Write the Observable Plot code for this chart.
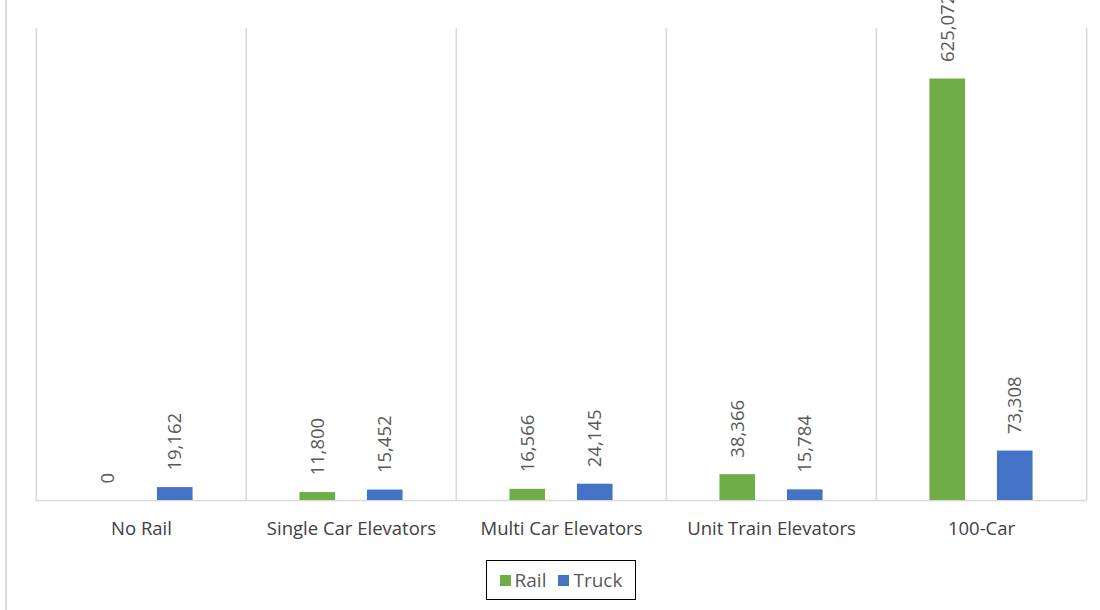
<!DOCTYPE html>
<html>
<head>
<meta charset="utf-8">
<script src="https://cdn.jsdelivr.net/npm/d3@7"></script>
<script src="https://cdn.jsdelivr.net/npm/@observablehq/plot@0.6"></script>
<style>
  html, body { margin: 0; padding: 0; background: #fff; }
  #wrap { position: relative; width: 1100px; height: 610px; overflow: hidden; font-family: "Open Sans", sans-serif; }
  #frame { position: absolute; left: 5px; top: 0; width: 2px; height: 610px; background: #d9d9d9; }
  #legend { position: absolute; left: 486px; top: 560px; width: 148px; height: 38px; border: 1px solid #000; box-sizing: content-box;
            display: flex; align-items: center; justify-content: center; gap: 12px; font-size: 19px; color: #595959; }
  .sw { display: inline-block; width: 11px; height: 11px; margin-right: 4px; vertical-align: middle; }
  .item { display: flex; align-items: center; }
</style>
</head>
<body>
<div id="wrap">
  <div id="chart"></div>
  <div id="frame"></div>
  <div id="legend"></div>
</div>
<script>
const categories = ["No Rail", "Single Car Elevators", "Multi Car Elevators", "Unit Train Elevators", "100-Car"];
const railValues = [0, 11800, 16566, 38366, 625072];
const truckValues = [19162, 15452, 24145, 15784, 73308];
const seriesNames = ["Rail", "Truck"];
const seriesColors = ["#70AD47", "#4472C4"];

const width = 1100, height = 545;
const marginLeft = 35, marginRight = 13, marginTop = 28, marginBottom = 45;
const step = (width - marginLeft - marginRight) / categories.length;
const barW = 36, offset = 33.75;

const rail = categories.map((c, i) => ({category: c, series: "Rail", value: railValues[i]}));
const truck = categories.map((c, i) => ({category: c, series: "Truck", value: truckValues[i]}));
const fmt = d3.format(",");

const textOpts = (off) => ({
  x: "category", y: "value", text: d => fmt(d.value), rotate: -90, textAnchor: "start",
  dx: off, dy: -17, fontSize: 18.5, fill: "#595959", fontFamily: "Open Sans"
});

const chart = Plot.plot({
  width, height, marginLeft, marginRight, marginTop, marginBottom,
  style: {fontFamily: "Open Sans", overflow: "visible", background: "white"},
  x: {domain: categories, padding: 0, label: null, tickSize: 0, tickPadding: 21},
  y: {domain: [0, 700000], axis: null},
  marks: [
    Plot.ruleX(categories, {x: d => d, dx: -step / 2, stroke: "#d9d9d9", strokeWidth: 1.5, strokeOpacity: 1}),
    Plot.ruleX([categories[categories.length - 1]], {x: d => d, dx: step / 2, stroke: "#d9d9d9", strokeWidth: 1.5, strokeOpacity: 1}),
    Plot.ruleY([0], {stroke: "#d9d9d9", strokeWidth: 1.5}),
    Plot.barY(rail, {x: "category", y: "value", fill: seriesColors[0],
      insetLeft: step / 2 - offset - barW / 2, insetRight: step / 2 + offset - barW / 2}),
    Plot.barY(truck, {x: "category", y: "value", fill: seriesColors[1],
      insetLeft: step / 2 + offset - barW / 2, insetRight: step / 2 - offset - barW / 2}),
    Plot.text(rail, textOpts(-offset)),
    Plot.text(truck, textOpts(offset))
  ]
});
chart.querySelectorAll('g[aria-label="x-axis tick label"] text, g[aria-label="x-axis"] text').forEach(t => {
  t.setAttribute("font-size", 18.5); t.setAttribute("fill", "#404040");
});
const ax = chart.querySelector('g[aria-label="x-axis tick label"]') || chart.querySelector('g[aria-label="x-axis"]');
if (ax) { ax.setAttribute("font-size", 18.5); ax.setAttribute("fill", "#404040"); }
document.getElementById("chart").appendChild(chart);

const legend = document.getElementById("legend");
seriesNames.forEach((s, i) => {
  const item = document.createElement("span");
  item.className = "item";
  item.innerHTML = `<span class="sw" style="background:${seriesColors[i]}"></span>${s}`;
  legend.appendChild(item);
});
</script>
</body>
</html>
